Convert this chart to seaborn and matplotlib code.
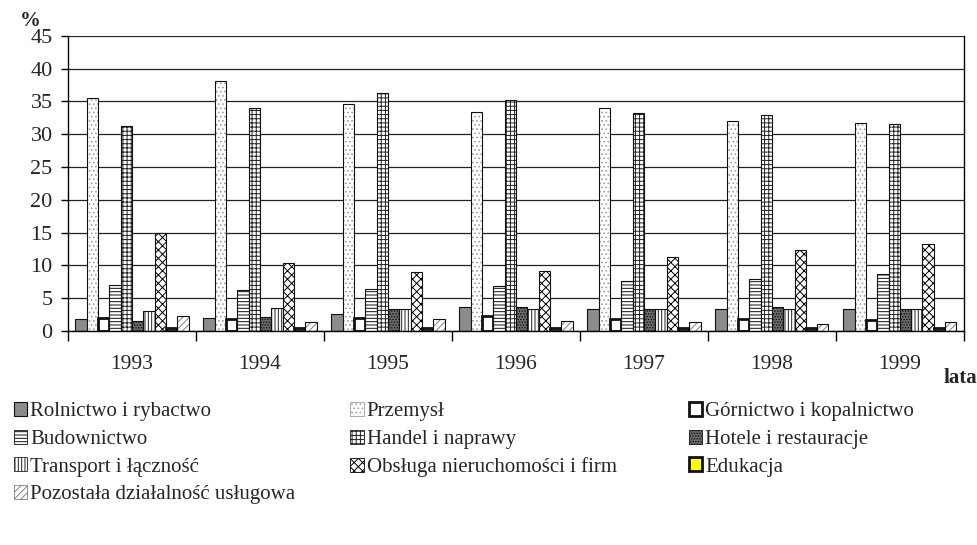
import pandas as pd
import numpy as np
import matplotlib
matplotlib.use('Agg')
import matplotlib.pyplot as plt
import seaborn as sns
from matplotlib.patches import Patch, Rectangle

# DATA ------------------------------------------------------------------------
years = ['1993', '1994', '1995', '1996', '1997', '1998', '1999']
sectors = ['Rolnictwo i rybactwo', 'Przemysł', 'Górnictwo i kopalnictwo',
           'Budownictwo', 'Handel i naprawy', 'Hotele i restauracje',
           'Transport i łączność', 'Obsługa nieruchomości i firm', 'Edukacja',
           'Pozostała działalność usługowa']
rolnictwo = [1.8, 1.9, 2.5, 3.6, 3.3, 3.4, 3.3]
przemysl = [35.5, 38.1, 34.6, 33.4, 34.0, 32.0, 31.7]
gornictwo = [1.9, 1.8, 1.9, 2.3, 1.8, 1.8, 1.7]
budownictwo = [7.0, 6.3, 6.4, 6.8, 7.6, 7.9, 8.7]
handel = [31.3, 34.0, 36.3, 35.3, 33.3, 33.0, 31.6]
hotele = [1.5, 2.1, 3.3, 3.6, 3.4, 3.6, 3.4]
transport = [3.0, 3.5, 3.3, 3.3, 3.4, 3.3, 3.3]
obsluga = [14.9, 10.4, 9.0, 9.2, 11.3, 12.3, 13.3]
edukacja = [0.5, 0.5, 0.5, 0.5, 0.5, 0.5, 0.5]
pozostala = [2.2, 1.3, 1.8, 1.5, 1.4, 1.1, 1.3]
series = [rolnictwo, przemysl, gornictwo, budownictwo, handel, hotele,
          transport, obsluga, edukacja, pozostala]

# long table for seaborn
rows = []
for name, vals in zip(sectors, series):
    for y, v in zip(years, vals):
        rows.append({'rok': y, 'sektor': name, 'udzial': v})
df = pd.DataFrame(rows)

# STYLES per sector: facecolor, hatch, hatch colour, outline width
styles = [
    ('#8c8c8c', '', '#111111', 0.8),
    ('#ffffff', '....', '#a0a0a0', 0.8),
    ('#ffffff', '', '#000000', 2.0),
    ('#ffffff', '-----', '#111111', 0.8),
    ('#ffffff', '++++', '#222222', 0.8),
    ('#6a6a6a', '......', '#111111', 0.8),
    ('#ffffff', '|||||', '#222222', 0.8),
    ('#ffffff', 'xxxx', '#000000', 0.8),
    ('#ffff00', '', '#000000', 2.0),
    ('#ffffff', '/////', '#808080', 0.8),
]

# PLOT ------------------------------------------------------------------------
sns.set_style('white')
plt.rcParams['font.family'] = ['Liberation Serif', 'DejaVu Serif']
plt.rcParams['hatch.linewidth'] = 0.7

fig = plt.figure(figsize=(9.78, 5.45), dpi=100)
ax = fig.add_axes([0.0695, 0.393, 0.916, 0.541])

sns.barplot(data=df, x='rok', y='udzial', hue='sektor', hue_order=sectors,
            order=years, width=0.885, ax=ax, legend=False, saturation=1)

# hatch colour comes from the edge colour, so the outline is drawn on top
for cont, (fc, hatch, hc, lw) in zip(ax.containers, styles):
    for p in cont:
        p.set_facecolor(fc)
        if hatch:
            p.set_hatch(hatch)
            p.set_edgecolor(hc)
            p.set_linewidth(0)
            ax.add_patch(Rectangle(p.get_xy(), p.get_width(), p.get_height(),
                                   fill=False, edgecolor='#111111', linewidth=lw,
                                   zorder=p.get_zorder() + 0.1))
        else:
            p.set_edgecolor('#111111')
            p.set_linewidth(lw)

ax.set_ylim(0, 45)
ax.set_xlim(-0.5, 6.5)
ax.set_yticks(np.arange(0, 46, 5))
ax.yaxis.grid(True, color='#222222', linewidth=0.9)
ax.set_axisbelow(True)
for s in ['left', 'right', 'bottom']:
    ax.spines[s].set_visible(True)
    ax.spines[s].set_color('black')
    ax.spines[s].set_linewidth(1.0)
ax.spines['top'].set_visible(False)

ax.tick_params(axis='y', which='major', left=True, length=5, width=1,
               labelsize=16, pad=6, color='black')
ax.set_xticks(np.arange(-0.5, 7, 1), minor=True)
ax.tick_params(axis='x', which='minor', bottom=True, length=7, width=1, color='black')
ax.tick_params(axis='x', which='major', bottom=False, labelsize=15.5, pad=14)
ax.set_xlabel('')
ax.set_ylabel('')

fig.text(0.020, 0.962, '%', fontsize=15, fontweight='bold', ha='left', va='center')
fig.text(0.9995, 0.307, 'lata', fontsize=15, fontweight='bold', ha='right', va='center')

# LEGEND in three separate columns ------------------------------------------
def make_handle(i):
    fc, hatch, hc, lw = styles[i]
    if hatch:
        return Patch(facecolor=fc, edgecolor=hc, linewidth=0.6, hatch=hatch)
    return Patch(facecolor=fc, edgecolor='#111111', linewidth=lw)

columns = [([0, 3, 6, 9], 0.014), ([1, 4, 7], 0.358), ([2, 5, 8], 0.704)]
for idx, xpos in columns:
    fig.legend([make_handle(i) for i in idx], [sectors[i] for i in idx],
               loc='upper left', bbox_to_anchor=(xpos, 0.262), frameon=False,
               fontsize=15, handlelength=0.65, handleheight=0.65,
               handletextpad=0.15, labelspacing=0.40, borderpad=0,
               borderaxespad=0)

fig.savefig('out.png', dpi=100)
